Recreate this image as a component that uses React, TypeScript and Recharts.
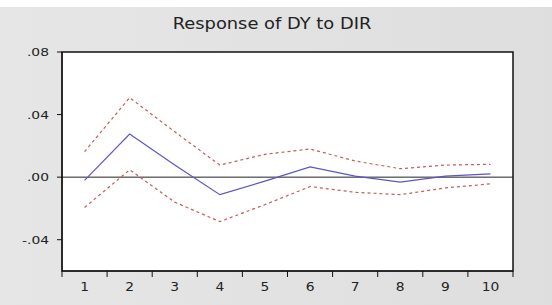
import { LineChart, Line, XAxis, YAxis, ReferenceLine, ReferenceArea } from "recharts";

// impulse response periods and values
const periods = [1, 2, 3, 4, 5, 6, 7, 8, 9, 10];
const response = [-0.0021, 0.0275, 0.0077, -0.0112, -0.0025, 0.0065, 0.0006, -0.0032, 0.0006, 0.0021];
const upperBand = [0.0163, 0.0508, 0.029, 0.0077, 0.0146, 0.018, 0.0103, 0.0054, 0.0077, 0.0082];
const lowerBand = [-0.0194, 0.0047, -0.016, -0.0284, -0.0176, -0.006, -0.0097, -0.0112, -0.0069, -0.0043];

const yTicks = [-0.04, 0, 0.04, 0.08];
const xEdges = [0.5, 1.5, 2.5, 3.5, 4.5, 5.5, 6.5, 7.5, 8.5, 9.5, 10.5];

const data = periods.map((p, i) => ({
  period: p,
  response: response[i],
  upper: upperBand[i],
  lower: lowerBand[i],
}));

const W = 552;
const H = 305;
const margin = { top: 52, right: 39, bottom: 4, left: 0 };
const Y_AXIS_W = 62;
const band = (W - margin.left - margin.right - Y_AXIS_W) / periods.length;
const FONT = "'DejaVu Sans', Arial, sans-serif";

const fmtY = (v: number) => {
  if (v === 0) return ".00";
  const s = Math.abs(v).toFixed(2).replace(/^0/, "");
  return v < 0 ? "-" + s : s;
};

// the source image is stretched sideways, so the labels get a little scaleX
function YTick(props: any) {
  const { x, y, payload } = props;
  return (
    <text
      transform={`translate(${x - 6},${y}) scale(1.26,1)`}
      dy={4}
      textAnchor="end"
      fontSize={11}
      fontFamily={FONT}
      fill="#222"
    >
      {fmtY(payload.value)}
    </text>
  );
}

// tick marks sit on band edges, labels in the middle of each band
function EdgeTick(props: any) {
  const { x, y, payload } = props;
  if (payload.value > 10) return null;
  return (
    <text
      transform={`translate(${x + band / 2},${y}) scale(1.2,1)`}
      dy={12}
      textAnchor="middle"
      fontSize={11.5}
      fontFamily={FONT}
      fill="#222"
    >
      {payload.value + 0.5}
    </text>
  );
}

export default function App() {
  return (
    <div style={{ position: "absolute", left: 0, top: 0, width: W, height: H, background: "linear-gradient(to right, #e6e6e6, #dedede)" }}>
      <div style={{ position: "absolute", left: 0, top: 0, width: W, height: 7, background: "#fff" }} />
      <div
        style={{
          position: "absolute",
          left: 0,
          top: 15,
          width: 544,
          textAlign: "center",
          fontFamily: FONT,
          fontSize: 15,
          color: "#222",
          transform: "scaleX(1.19)",
        }}
      >
        Response of DY to DIR
      </div>
      <LineChart width={W} height={H} data={data} margin={margin} style={{ position: "absolute", left: 0, top: 0 }}>
        <XAxis
          dataKey="period"
          type="number"
          domain={[0.5, 10.5]}
          ticks={xEdges}
          interval={0}
          tick={<EdgeTick />}
          tickSize={6}
          height={30}
          stroke="#111"
          allowDataOverflow
        />
        <YAxis
          type="number"
          domain={[-0.06, 0.08]}
          ticks={yTicks}
          interval={0}
          width={Y_AXIS_W}
          tickSize={5}
          tick={<YTick />}
          stroke="#111"
          allowDataOverflow
        />
        <ReferenceArea x1={0.5} x2={10.5} y1={-0.06} y2={0.08} fill="#fff" fillOpacity={1} stroke="#111" strokeWidth={1.5} />
        <ReferenceLine y={0} stroke="#222" strokeWidth={1} />
        <Line dataKey="upper" stroke="#c85a5a" strokeWidth={1.2} strokeDasharray="3 3" dot={false} isAnimationActive={false} />
        <Line dataKey="lower" stroke="#c85a5a" strokeWidth={1.2} strokeDasharray="3 3" dot={false} isAnimationActive={false} />
        <Line dataKey="response" stroke="#5b55c8" strokeWidth={1.2} dot={false} isAnimationActive={false} />
      </LineChart>
    </div>
  );
}
